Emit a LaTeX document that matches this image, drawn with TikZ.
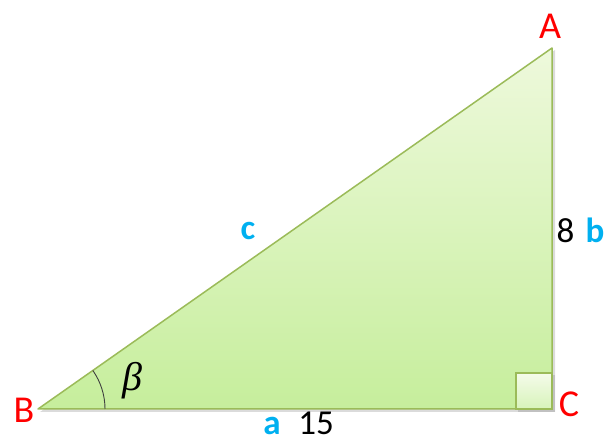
\documentclass[tikz,border=0pt]{standalone}
\usepackage{fontspec}
\setmainfont{Carlito}
\newfontfamily\grkfont{Liberation Serif}
\usetikzlibrary{shadows}
\definecolor{edgegreen}{HTML}{9BBB59}
\definecolor{filltop}{HTML}{EEF9DC}
\definecolor{fillbot}{HTML}{C6EE9C}
\definecolor{vred}{HTML}{FF0000}
\definecolor{lblue}{HTML}{00B0F0}
\tikzset{
  vertexlbl/.style={text=vred, font=\fontsize{38}{42}\selectfont, inner sep=0pt, anchor=base},
  sidelbl/.style={text=lblue, font=\fontsize{35}{40}\selectfont\bfseries, inner sep=0pt, anchor=base},
  numlbl/.style={text=black, font=\fontsize{35}{40}\selectfont, inner sep=0pt, anchor=base}
}
\begin{document}
\begin{tikzpicture}[x=1pt,y=1pt]
\useasboundingbox (0,0) rectangle (607,441);
\coordinate (B) at (38,32);
\coordinate (C) at (552,32);
\coordinate (A) at (552,393);
\fill[black!40, opacity=0.35] (40,29) -- (555,29) -- (555,391) -- cycle;
\shade[top color=filltop, bottom color=fillbot, draw=edgegreen, line width=1.5pt, line join=round]
  (B) -- (C) -- (A) -- cycle;
\coordinate (S1) at (516,32);
\coordinate (S2) at (552,68);
\fill[black!40, opacity=0.4] (518,29) rectangle (555,66);
\shade[top color=filltop!60!white, bottom color=fillbot!70!white, draw=edgegreen, line width=1.5pt]
  (S1) rectangle (S2);
\draw[black!75, line width=0.9pt] (B) ++(67,0) arc[start angle=0, end angle=35.08, radius=67];
\node[vertexlbl] (la) at (550,402) {A};
\node[vertexlbl] (lb) at (24,18) {B};
\node[vertexlbl] (lc) at (569,24) {C};
\node[sidelbl] (sc) at (248,201) {c};
\node[numlbl] (n8) at (565.5,198) {8};
\node[sidelbl] (sb) at (595,198) {b};
\node[sidelbl] (sa) at (272,6) {a};
\node[numlbl] (n15) at (316,6) {15};
\node[font=\fontsize{40}{44}\selectfont\grkfont\itshape, inner sep=0pt] (beta) at (132,60) {β};
\end{tikzpicture}
\end{document}
